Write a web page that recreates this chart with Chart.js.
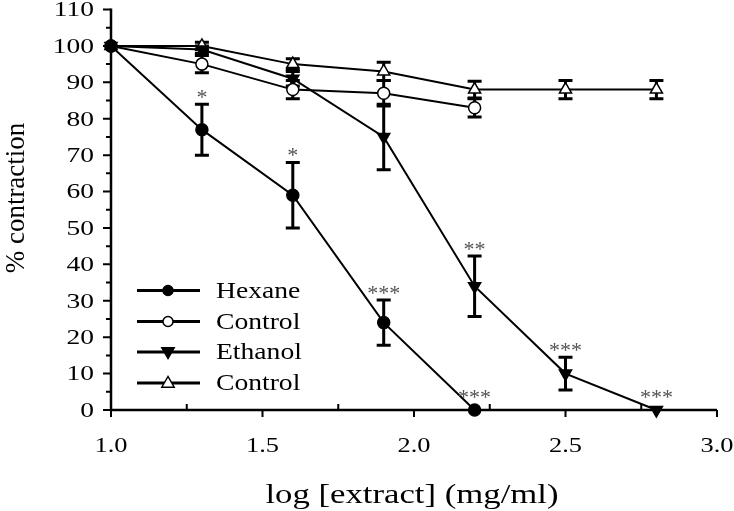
<!DOCTYPE html>
<html>
<head>
<meta charset="utf-8">
<script src="https://cdn.jsdelivr.net/npm/chart.js@4.4.0/dist/chart.umd.min.js"></script>
<style>
  html, body { margin: 0; padding: 0; background: #fff; }
  #wrap { width: 734px; height: 511px; }
</style>
</head>
<body>
<div id="wrap"><canvas id="chart" width="734" height="511"></canvas></div>
<script>
// log [extract] doses
const xHexane = [1.0, 1.3, 1.6, 1.9, 2.2];
const xEthanol = [1.0, 1.3, 1.6, 1.9, 2.2, 2.5, 2.8];

// % contraction (mean) and error (+/-)
const hexane = [100, 77, 59, 24, 0];
const hexaneErr = [0, 7, 9, 6.2, 0];
const hexaneSig = ['', '*', '*', '***', '***'];

const hexaneControl = [100, 95, 88, 87, 83];
const hexaneControlErr = [0, 2.4, 2.5, 3.5, 2.5];

const ethanol = [100, 99, 91, 75, 34, 10, 0];
const ethanolErr = [0, 1, 2, 9, 8.3, 4.5, 0];
const ethanolSig = ['', '', '', '', '**', '***', '***'];

const ethanolControl = [100, 100, 95, 93, 88, 88, 88];
const ethanolControlErr = [0, 1, 1.5, 2.5, 2.3, 2.5, 2.5];

const xTickLabels = ['1.0', '1.5', '2.0', '2.5', '3.0'];
const yTickLabels = ['0', '10', '20', '30', '40', '50', '60', '70', '80', '90', '100', '110'];

const SERIF = '"Liberation Serif", "Times New Roman", Times, serif';

const pts = (xs, ys) => xs.map((x, i) => ({x: x, y: ys[i]}));

// small helper: text stretched horizontally like the original figure
function wideText(ctx, text, x, y, sx, align) {
  ctx.save();
  ctx.translate(x, y);
  ctx.scale(sx, 1);
  ctx.textAlign = align;
  ctx.fillText(text, 0, 0);
  ctx.restore();
}

function marker(ctx, style, x, y, r, filled, rot) {
  ctx.save();
  ctx.beginPath();
  if (style === 'circle') {
    ctx.arc(x, y, r, 0, Math.PI * 2);
  } else {
    let d = rot ? 1 : -1;
    ctx.moveTo(x, y + d * r);
    ctx.lineTo(x - r * 0.95, y - d * r * 0.65);
    ctx.lineTo(x + r * 0.95, y - d * r * 0.65);
    ctx.closePath();
  }
  ctx.fillStyle = filled ? '#000' : '#fff';
  ctx.fill();
  ctx.lineWidth = 1.5;
  ctx.strokeStyle = '#000';
  ctx.stroke();
  ctx.restore();
}

const figurePlugin = {
  id: 'figure',
  beforeDatasetsDraw (chart) {
    const ctx = chart.ctx;
    const xs = chart.scales.x, ys = chart.scales.y;
    const a = chart.chartArea;

    ctx.save();
    ctx.strokeStyle = '#000';
    ctx.fillStyle = '#000';

    // axis lines
    ctx.lineWidth = 2.5;
    ctx.beginPath();
    ctx.moveTo(a.left, a.top - 1);
    ctx.lineTo(a.left, a.bottom + 1);
    ctx.moveTo(a.left - 1, a.bottom);
    ctx.lineTo(a.right, a.bottom);
    ctx.stroke();

    // y ticks, major every 10 and minor in between (outward)
    ctx.lineWidth = 2;
    ctx.beginPath();
    yTickLabels.forEach((lab, i) => {
      let v = Number(lab);
      let p = ys.getPixelForValue(v);
      ctx.moveTo(a.left - 8, p);
      ctx.lineTo(a.left, p);
      if (i < yTickLabels.length - 1) {
        let m = ys.getPixelForValue(v + 5);
        ctx.moveTo(a.left - 5, m);
        ctx.lineTo(a.left, m);
      }
    });
    // x ticks, major outward, minor inward
    xTickLabels.forEach((lab, i) => {
      let v = Number(lab);
      let p = xs.getPixelForValue(v);
      ctx.moveTo(p, a.bottom);
      ctx.lineTo(p, a.bottom + 7);
      if (i < xTickLabels.length - 1) {
        let m = xs.getPixelForValue((v + Number(xTickLabels[i + 1])) / 2);
        ctx.moveTo(m, a.bottom);
        ctx.lineTo(m, a.bottom - 6);
      }
    });
    ctx.stroke();

    // tick labels
    ctx.font = '22px ' + SERIF;
    ctx.textBaseline = 'middle';
    yTickLabels.forEach((lab) => {
      wideText(ctx, lab, a.left - 17, ys.getPixelForValue(Number(lab)) + 1, 1.25, 'right');
    });
    xTickLabels.forEach((lab) => {
      wideText(ctx, lab, xs.getPixelForValue(Number(lab)), a.bottom + 36, 1.2, 'center');
    });

    // axis titles
    ctx.font = '28px ' + SERIF;
    ctx.textBaseline = 'alphabetic';
    wideText(ctx, 'log [extract] (mg/ml)', (a.left + a.right) / 2 - 2, 503, 1.24, 'center');
    ctx.save();
    ctx.translate(24, 198);
    ctx.rotate(-Math.PI / 2);
    ctx.font = '27px ' + SERIF;
    ctx.textAlign = 'center';
    ctx.fillText('% contraction', 0, 0);
    ctx.restore();

    // error bars
    ctx.lineWidth = 3;
    chart.data.datasets.forEach((ds) => {
      ds.data.forEach((pt, i) => {
        let e = ds.errors[i];
        if (!e) return;
        let px = xs.getPixelForValue(pt.x);
        let t = ys.getPixelForValue(pt.y + e);
        let b = ys.getPixelForValue(pt.y - e);
        ctx.beginPath();
        ctx.moveTo(px, t);
        ctx.lineTo(px, b);
        ctx.moveTo(px - 7, t);
        ctx.lineTo(px + 7, t);
        ctx.moveTo(px - 7, b);
        ctx.lineTo(px + 7, b);
        ctx.stroke();
      });
    });
    ctx.restore();
  },
  afterDatasetsDraw (chart) {
    const ctx = chart.ctx;
    const xs = chart.scales.x, ys = chart.scales.y;

    ctx.save();
    // significance stars
    ctx.fillStyle = '#555';
    ctx.font = '20px ' + SERIF;
    ctx.textBaseline = 'alphabetic';
    ctx.textAlign = 'center';
    chart.data.datasets.forEach((ds) => {
      if (!ds.sig) return;
      ds.data.forEach((pt, i) => {
        let s = ds.sig[i];
        if (!s) return;
        let px = xs.getPixelForValue(pt.x);
        let top = Math.min(ys.getPixelForValue(pt.y + ds.errors[i]), ys.getPixelForValue(pt.y) - 6);
        let cy = top - 11;
        wideText(ctx, s, px, cy + 11, 1.1, 'center');
      });
    });

    // legend
    const rows = [290.5, 321.5, 352, 383];
    chart.data.datasets.forEach((ds, i) => {
      let y = rows[i];
      ctx.strokeStyle = '#000';
      ctx.lineWidth = 3;
      ctx.beginPath();
      ctx.moveTo(137, y);
      ctx.lineTo(200, y);
      ctx.stroke();
      marker(ctx, ds.pointStyle, 168, y, ds.pointStyle === 'circle' ? 5 : 6.5,
        ds.pointBackgroundColor === '#000', ds.pointRotation === 180);
      ctx.fillStyle = '#000';
      ctx.font = '24px ' + SERIF;
      ctx.textBaseline = 'middle';
      wideText(ctx, ds.label, 216, y + 1, 1.15, 'left');
    });
    ctx.restore();
  }
};

const common = {
  borderColor: '#000',
  borderWidth: 2,
  pointBorderColor: '#000',
  pointBorderWidth: 1.5,
  showLine: true,
  clip: false,
  tension: 0
};

new Chart(document.getElementById('chart'), {
  type: 'scatter',
  data: {
    datasets: [
      Object.assign({}, common, {
        label: 'Hexane', data: pts(xHexane, hexane), errors: hexaneErr, sig: hexaneSig,
        pointStyle: 'circle', pointRadius: 6, pointBackgroundColor: '#000'
      }),
      Object.assign({}, common, {
        label: 'Control', data: pts(xHexane, hexaneControl), errors: hexaneControlErr,
        pointStyle: 'circle', pointRadius: 6, pointBackgroundColor: '#fff'
      }),
      Object.assign({}, common, {
        label: 'Ethanol', data: pts(xEthanol, ethanol), errors: ethanolErr, sig: ethanolSig,
        pointStyle: 'triangle', pointRotation: 180, pointRadius: 7, pointBackgroundColor: '#000'
      }),
      Object.assign({}, common, {
        label: 'Control', data: pts(xEthanol, ethanolControl), errors: ethanolControlErr,
        pointStyle: 'triangle', pointRadius: 7, pointBackgroundColor: '#fff'
      })
    ]
  },
  options: {
    responsive: false,
    animation: false,
    devicePixelRatio: 1,
    layout: { padding: { left: 111, right: 17, top: 9.5, bottom: 101 } },
    scales: {
      x: { type: 'linear', min: 1, max: 3, display: false },
      y: { type: 'linear', min: 0, max: 110, display: false }
    },
    plugins: {
      legend: { display: false },
      tooltip: { enabled: false }
    }
  },
  plugins: [figurePlugin]
});
</script>
</body>
</html>
